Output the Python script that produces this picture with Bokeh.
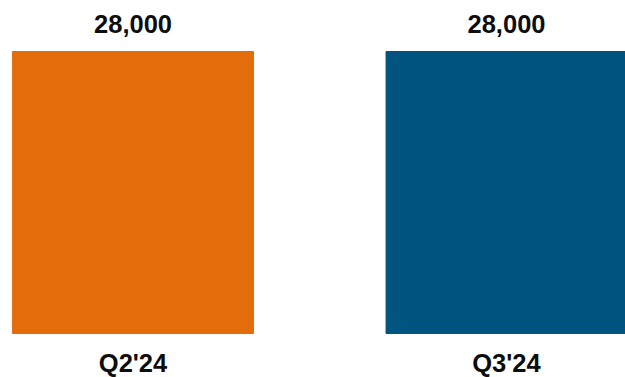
from bokeh.plotting import figure
from bokeh.models import Range1d, ColumnDataSource
from bokeh.core.properties import value
from bokeh.embed import file_html
from bokeh.resources import INLINE

categories = ["Q2'24", "Q3'24"]
values = [28000, 28000]
colors = ["#E36C0B", "#00547F"]
value_labels = ["{:,}".format(v) for v in values]

xs = [i + 0.5 for i in range(len(categories))]
src = ColumnDataSource(dict(x=xs, top=values, color=colors, vlab=value_labels,
                            cat=categories, zero=[0] * len(values)))

W, H = 625, 377
p = figure(width=W, height=H, output_backend="svg", toolbar_location=None,
           x_range=Range1d(0.1452, 1.8186), y_range=Range1d(-4369, 33064),
           min_border=0, outline_line_color=None)
p.xaxis.visible = False
p.yaxis.visible = False
p.grid.visible = False
p.background_fill_color = "white"
p.border_fill_color = "white"

p.vbar(x="x", top="top", bottom=0, width=0.645, color="color", source=src)

font = value("Liberation Sans")
p.text(x="x", y="top", text="vlab", source=src, text_font=font,
       text_font_size="25.5px", text_font_style="bold", text_color="#0d0d0d",
       text_align="center", text_baseline="alphabetic", y_offset=-28)
p.text(x="x", y="zero", text="cat", source=src, text_font=font,
       text_font_size="25.5px", text_font_style="bold", text_color="#0d0d0d",
       text_align="center", text_baseline="alphabetic", y_offset=30)

open("out.html", "w").write(file_html(p, INLINE))
